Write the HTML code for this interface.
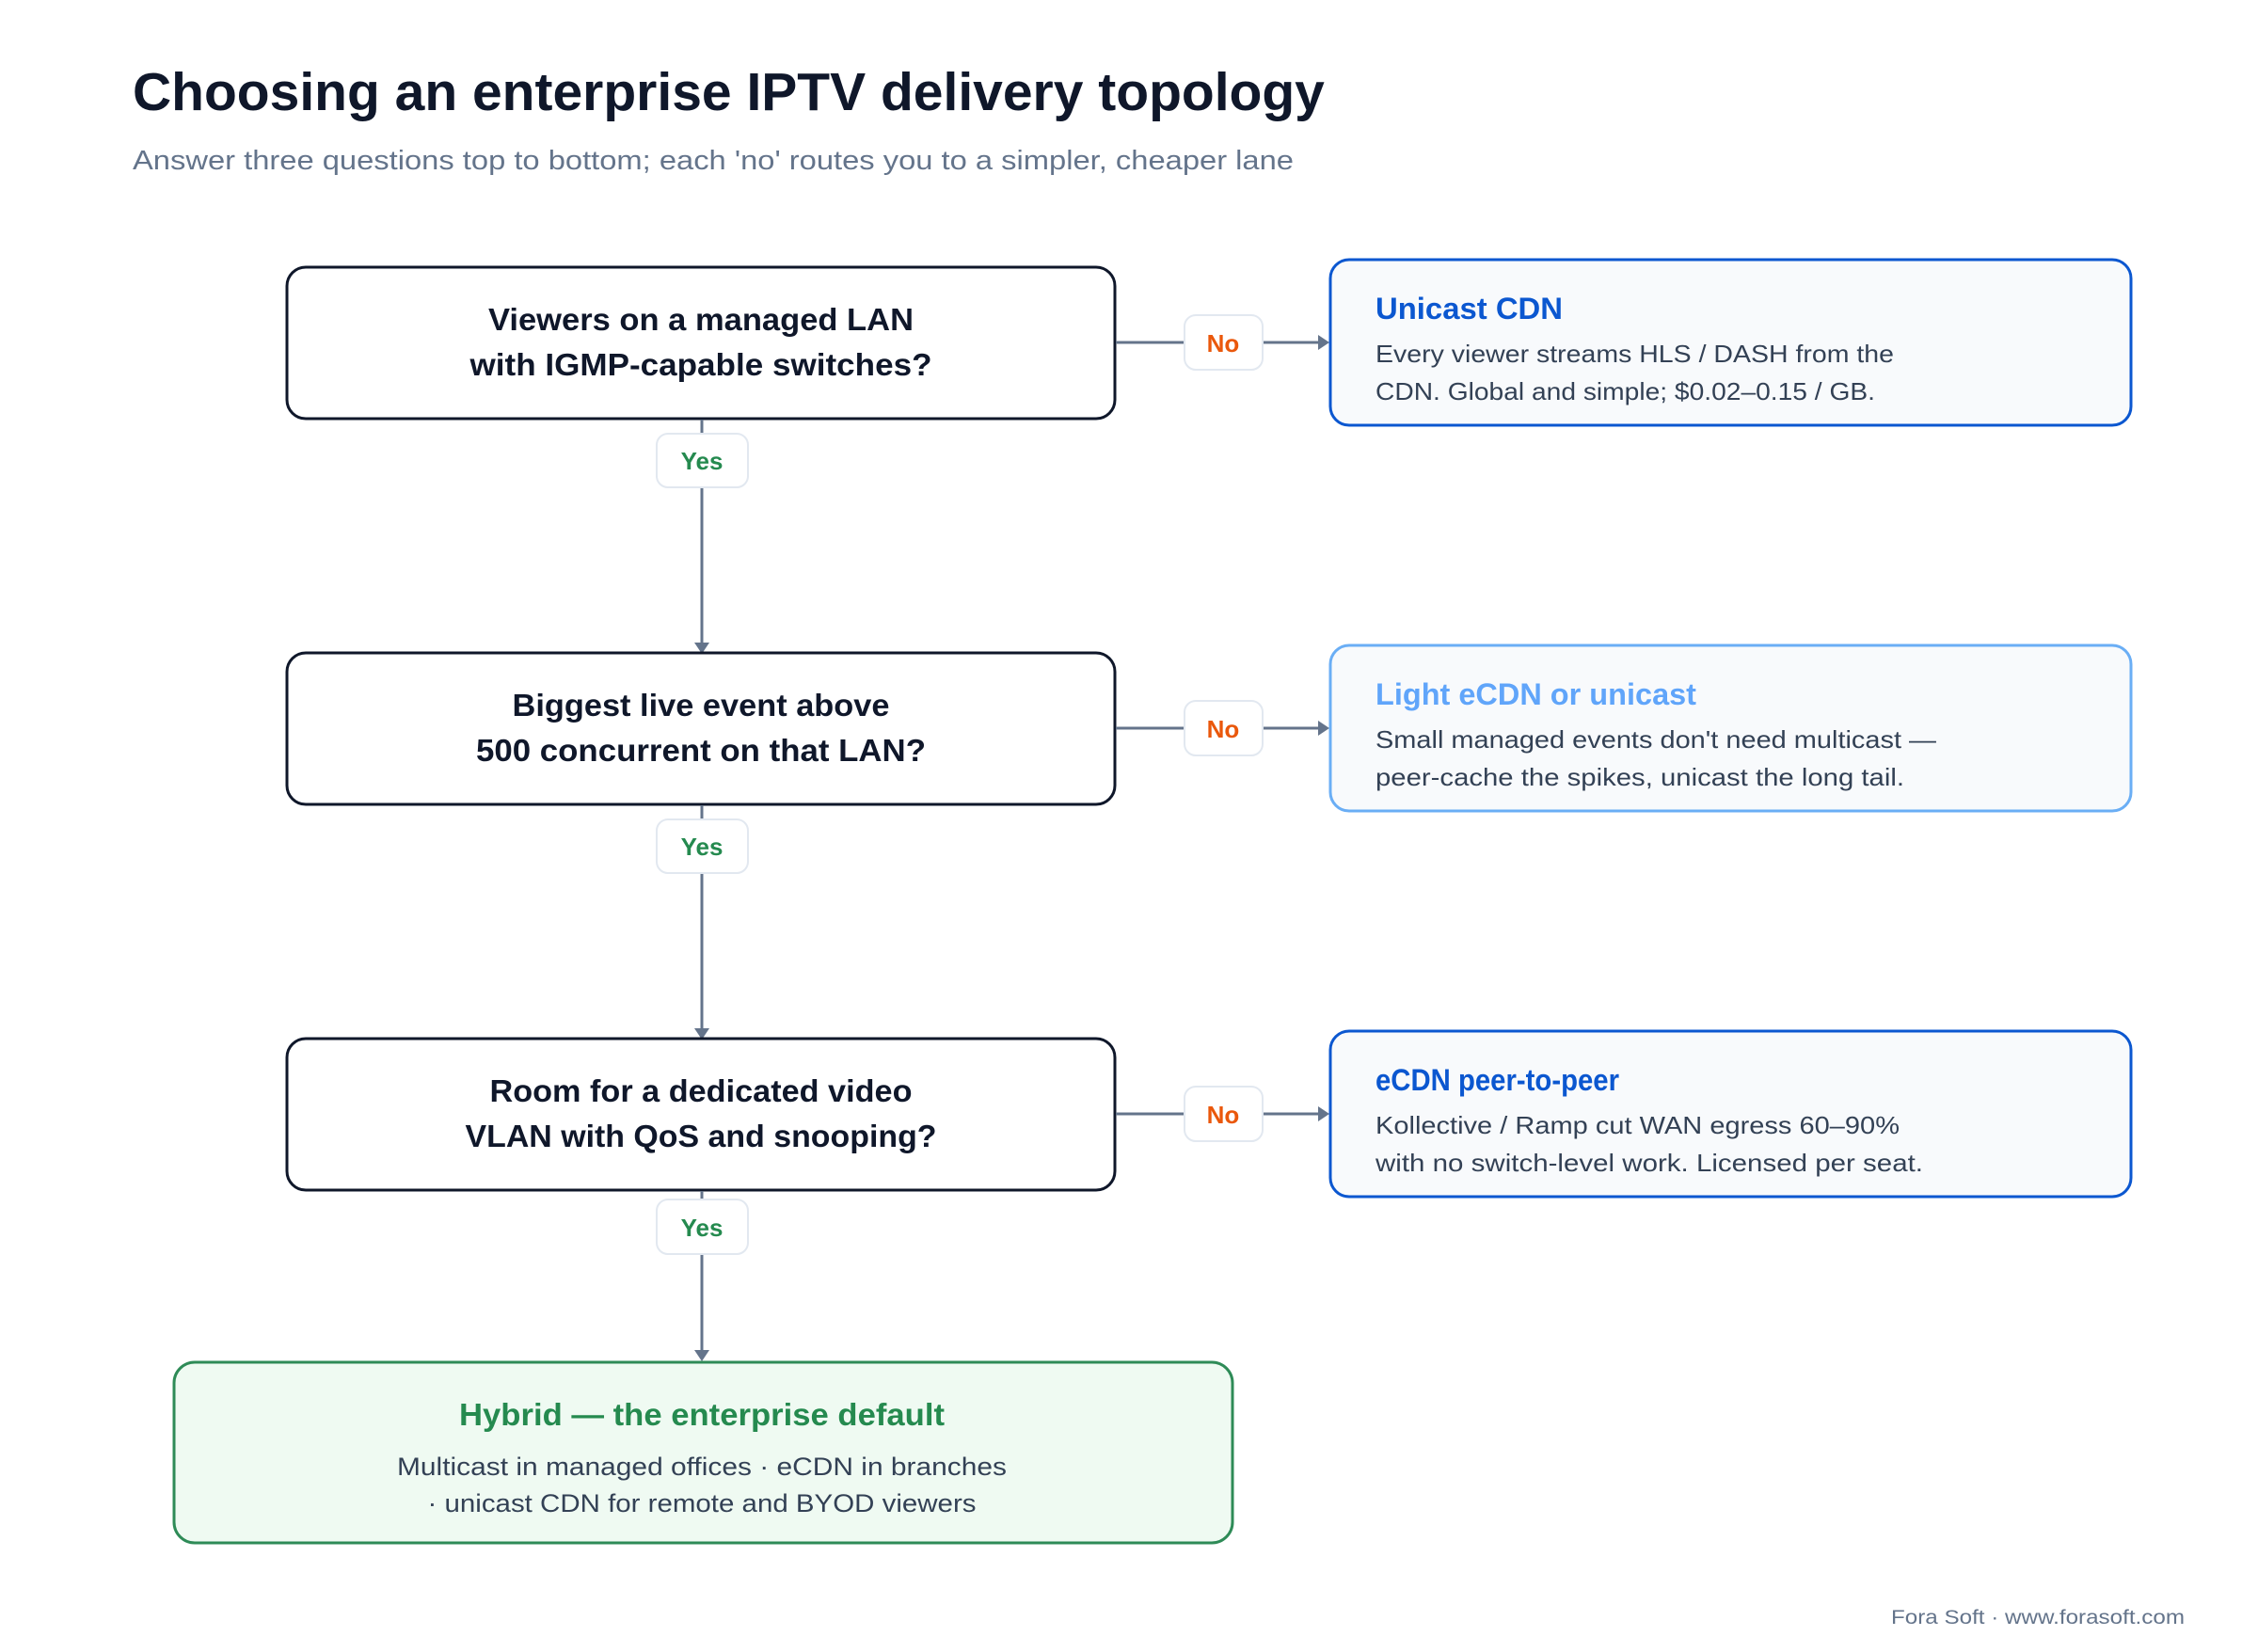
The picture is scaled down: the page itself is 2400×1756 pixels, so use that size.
<!DOCTYPE html>
<html><head><meta charset="utf-8"><style>
html,body{margin:0;padding:0;background:#fff;}
svg{display:block;}
text{font-family:"Liberation Sans",Arial,sans-serif;}
</style></head><body>
<svg width="2400" height="1756" viewBox="0 0 2400 1756" xmlns="http://www.w3.org/2000/svg">
<rect width="2400" height="1756" fill="#fff"/>
<text x="141" y="117" font-size="57" font-weight="700" fill="#0f172a">Choosing an enterprise IPTV delivery topology</text>
<text x="141" y="180" font-size="29" fill="#64748b" textLength="1234" lengthAdjust="spacingAndGlyphs">Answer three questions top to bottom; each 'no' routes you to a simpler, cheaper lane</text>

<!-- Row 1 -->
<rect x="305" y="284" width="880" height="161" rx="20" fill="#fff" stroke="#0f172a" stroke-width="3"/>
<text x="745" y="351" font-size="33" font-weight="700" fill="#0f172a" text-anchor="middle" textLength="452" lengthAdjust="spacingAndGlyphs">Viewers on a managed LAN</text>
<text x="745" y="399" font-size="33" font-weight="700" fill="#0f172a" text-anchor="middle" textLength="491" lengthAdjust="spacingAndGlyphs">with IGMP-capable switches?</text>
<line x1="1186" y1="364" x2="1402" y2="364" stroke="#64748b" stroke-width="3"/>
<polygon points="1413,364 1401,356 1401,372" fill="#64748b"/>
<rect x="1259" y="335" width="83" height="58" rx="12" fill="#fff" stroke="#e2e8f0" stroke-width="2"/>
<text x="1300" y="374" font-size="26" font-weight="700" fill="#ea580c" text-anchor="middle">No</text>
<rect x="1414" y="276" width="851" height="176" rx="20" fill="#f8fafc" stroke="#0b57d0" stroke-width="3"/>
<text x="1462" y="339" font-size="32" font-weight="700" fill="#0b57d0" textLength="199" lengthAdjust="spacingAndGlyphs">Unicast CDN</text>
<text x="1462" y="385" font-size="26" fill="#334155" textLength="551" lengthAdjust="spacingAndGlyphs">Every viewer streams HLS / DASH from the</text>
<text x="1462" y="425" font-size="26" fill="#334155" textLength="531" lengthAdjust="spacingAndGlyphs">CDN. Global and simple; $0.02–0.15 / GB.</text>
<line x1="746" y1="446" x2="746" y2="684" stroke="#64748b" stroke-width="3"/>
<polygon points="746,695 738,683 754,683" fill="#64748b"/>
<rect x="698" y="461" width="97" height="57" rx="12" fill="#fff" stroke="#e2e8f0" stroke-width="2"/>
<text x="746" y="499" font-size="26" font-weight="700" fill="#258a4f" text-anchor="middle">Yes</text>

<!-- Row 2 -->
<rect x="305" y="694" width="880" height="161" rx="20" fill="#fff" stroke="#0f172a" stroke-width="3"/>
<text x="745" y="761" font-size="33" font-weight="700" fill="#0f172a" text-anchor="middle" textLength="401" lengthAdjust="spacingAndGlyphs">Biggest live event above</text>
<text x="745" y="809" font-size="33" font-weight="700" fill="#0f172a" text-anchor="middle" textLength="478" lengthAdjust="spacingAndGlyphs">500 concurrent on that LAN?</text>
<line x1="1186" y1="774" x2="1402" y2="774" stroke="#64748b" stroke-width="3"/>
<polygon points="1413,774 1401,766 1401,782" fill="#64748b"/>
<rect x="1259" y="745" width="83" height="58" rx="12" fill="#fff" stroke="#e2e8f0" stroke-width="2"/>
<text x="1300" y="784" font-size="26" font-weight="700" fill="#ea580c" text-anchor="middle">No</text>
<rect x="1414" y="686" width="851" height="176" rx="20" fill="#f8fafc" stroke="#6aaef5" stroke-width="3"/>
<text x="1462" y="749" font-size="32" font-weight="700" fill="#60a5fa" textLength="341" lengthAdjust="spacingAndGlyphs">Light eCDN or unicast</text>
<text x="1462" y="795" font-size="26" fill="#334155" textLength="596" lengthAdjust="spacingAndGlyphs">Small managed events don't need multicast —</text>
<text x="1462" y="835" font-size="26" fill="#334155" textLength="562" lengthAdjust="spacingAndGlyphs">peer-cache the spikes, unicast the long tail.</text>
<line x1="746" y1="856" x2="746" y2="1094" stroke="#64748b" stroke-width="3"/>
<polygon points="746,1105 738,1093 754,1093" fill="#64748b"/>
<rect x="698" y="871" width="97" height="57" rx="12" fill="#fff" stroke="#e2e8f0" stroke-width="2"/>
<text x="746" y="909" font-size="26" font-weight="700" fill="#258a4f" text-anchor="middle">Yes</text>

<!-- Row 3 -->
<rect x="305" y="1104" width="880" height="161" rx="20" fill="#fff" stroke="#0f172a" stroke-width="3"/>
<text x="745" y="1171" font-size="33" font-weight="700" fill="#0f172a" text-anchor="middle" textLength="449" lengthAdjust="spacingAndGlyphs">Room for a dedicated video</text>
<text x="745" y="1219" font-size="33" font-weight="700" fill="#0f172a" text-anchor="middle" textLength="501" lengthAdjust="spacingAndGlyphs">VLAN with QoS and snooping?</text>
<line x1="1186" y1="1184" x2="1402" y2="1184" stroke="#64748b" stroke-width="3"/>
<polygon points="1413,1184 1401,1176 1401,1192" fill="#64748b"/>
<rect x="1259" y="1155" width="83" height="58" rx="12" fill="#fff" stroke="#e2e8f0" stroke-width="2"/>
<text x="1300" y="1194" font-size="26" font-weight="700" fill="#ea580c" text-anchor="middle">No</text>
<rect x="1414" y="1096" width="851" height="176" rx="20" fill="#f8fafc" stroke="#0b57d0" stroke-width="3"/>
<text x="1462" y="1159" font-size="32" font-weight="700" fill="#0b57d0" textLength="259" lengthAdjust="spacingAndGlyphs">eCDN peer-to-peer</text>
<text x="1462" y="1205" font-size="26" fill="#334155" textLength="557" lengthAdjust="spacingAndGlyphs">Kollective / Ramp cut WAN egress 60–90%</text>
<text x="1462" y="1245" font-size="26" fill="#334155" textLength="582" lengthAdjust="spacingAndGlyphs">with no switch-level work. Licensed per seat.</text>
<line x1="746" y1="1266" x2="746" y2="1436" stroke="#64748b" stroke-width="3"/>
<polygon points="746,1447 738,1435 754,1435" fill="#64748b"/>
<rect x="698" y="1275" width="97" height="58" rx="12" fill="#fff" stroke="#e2e8f0" stroke-width="2"/>
<text x="746" y="1314" font-size="26" font-weight="700" fill="#258a4f" text-anchor="middle">Yes</text>

<rect x="185" y="1448" width="1125" height="192" rx="22" fill="#effaf2" stroke="#2e8b57" stroke-width="3"/>
<text x="746" y="1515" font-size="33" font-weight="700" fill="#258a4f" text-anchor="middle" textLength="516" lengthAdjust="spacingAndGlyphs">Hybrid — the enterprise default</text>
<text x="746" y="1568" font-size="27" fill="#334155" text-anchor="middle" textLength="648" lengthAdjust="spacingAndGlyphs">Multicast in managed offices · eCDN in branches</text>
<text x="746" y="1607" font-size="27" fill="#334155" text-anchor="middle" textLength="583" lengthAdjust="spacingAndGlyphs">· unicast CDN for remote and BYOD viewers</text>

<text x="2322" y="1726" font-size="21" fill="#64748b" text-anchor="end" textLength="312" lengthAdjust="spacingAndGlyphs">Fora Soft · www.forasoft.com</text>
</svg>
</body></html>
